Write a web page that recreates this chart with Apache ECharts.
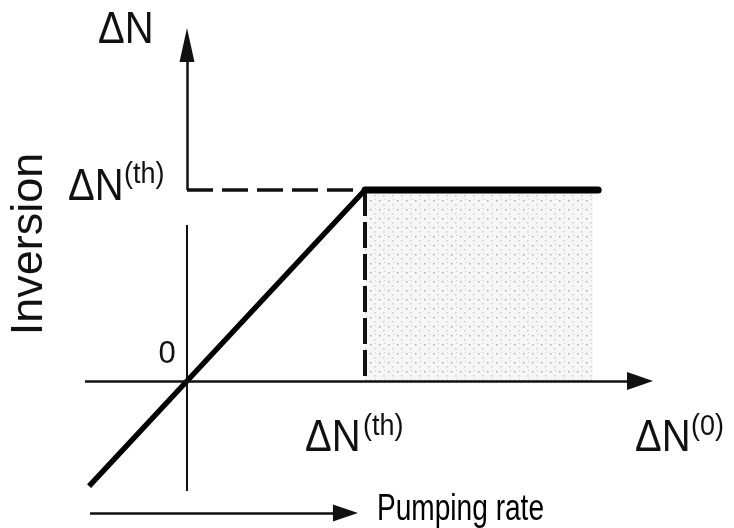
<!DOCTYPE html>
<html>
<head>
<meta charset="utf-8">
<script src="https://cdn.jsdelivr.net/npm/echarts@6/dist/echarts.min.js"></script>
<style>
  html, body { margin: 0; padding: 0; background: #fff; }
  #chart { width: 734px; height: 528px; }
</style>
</head>
<body>
<div id="chart"></div>
<script>
// pumping rate (x) and inversion (y), in units of the threshold
const pump = [-0.55, 0, 1, 2.31];
const inversion = [-0.55, 0, 1, 1];
const threshold = [1, 1];
const shadeX = [1, 2.28];
const shadeY = [0, 1];
// axis strokes drawn as lines (arrow end is the head centre)
const xAxisLine = [-0.573, 2.545];
const yAxisLower = [-0.576, 0.817];
const yAxisUpper = [1, 1.759];
const pumpArrowX = [-0.545, 0.89];
const pumpArrowY = -0.691;
// label texts
const labelBase = ['ΔN', 'ΔN', 'ΔN', 'ΔN'];
const labelSup = ['', '(th)', '(th)', '(0)'];
const yTitle = 'Inversion';
const xTitle = 'Pumping rate';
const zeroLabel = '0';

const FONT = "'Liberation Sans', Arial, sans-serif";

// dotted texture for the shaded region
function dotPattern() {
    let c = document.createElement('canvas');
    c.width = 9; c.height = 9;
    let g = c.getContext('2d');
    g.fillStyle = 'rgba(0,0,0,0.035)';
    g.fillRect(0, 0, 9, 9);
    g.fillStyle = 'rgba(0,0,0,0.30)';
    g.fillRect(1, 2, 1.5, 1.5);
    g.fillStyle = 'rgba(0,0,0,0.18)';
    g.fillRect(5, 6, 1.5, 1.5);
    g.fillRect(6, 1, 1, 1);
    return c;
}

let chart = echarts.init(document.getElementById('chart'));

let diag = pump.slice(0, 3).map((x, i) => [x, inversion[i]]);
let plateau = pump.slice(2).map((x, i) => [x, inversion[i + 2]]);

// label positions in pixels: [x, cap centre y, sup x, sup centre y]
let labelPos = [
    [98, 31, 0, 0],
    [68, 188, 124, 175],
    [305, 439, 363, 427],
    [635, 439, 691, 427]
];
let graphics = [];
labelBase.forEach((t, i) => {
    let p = labelPos[i];
    graphics.push({
        type: 'text', x: p[0], y: p[1], scaleY: 1.1, silent: true,
        style: { text: t, fontSize: 40, fontFamily: FONT, fill: '#111', align: 'left', verticalAlign: 'middle' }
    });
    if (labelSup[i]) {
        graphics.push({
            type: 'text', x: p[2], y: p[3], scaleY: 1.1, silent: true,
            style: { text: labelSup[i], fontSize: 27, fontFamily: FONT, fill: '#111', align: 'left', verticalAlign: 'middle' }
        });
    }
});
graphics.push({
    type: 'text', x: 30, y: 244, rotation: Math.PI / 2, silent: true,
    style: { text: yTitle, fontSize: 45, fontFamily: FONT, fill: '#111', align: 'center', verticalAlign: 'middle' }
});
graphics.push({
    type: 'text', x: 167, y: 354, silent: true,
    style: { text: zeroLabel, fontSize: 31, fontFamily: FONT, fill: '#111', align: 'center', verticalAlign: 'middle' }
});
// condensed look: squeeze the regular face horizontally
graphics.push({
    type: 'text', x: 377, y: 510, scaleX: 0.78, silent: true,
    style: { text: xTitle, fontSize: 36, fontFamily: FONT, fill: '#000', align: 'left', verticalAlign: 'middle' }
});

let option = {
    animation: false,
    grid: { left: 9, right: 13, top: 22.875, bottom: 3.75 },
    xAxis: { type: 'value', min: -1, max: 3, show: false },
    yAxis: { type: 'value', min: -0.75, max: 1.875, show: false },
    graphic: graphics,
    series: [
        {
            // shaded region + axes with arrow heads
            type: 'line', data: [], silent: true,
            markArea: {
                silent: true,
                itemStyle: { color: { image: dotPattern(), repeat: 'repeat' } },
                data: [[{ coord: [shadeX[0], shadeY[0]] }, { coord: [shadeX[1], shadeY[1]] }]]
            },
            markLine: {
                silent: true,
                symbol: ['none', 'none'],
                label: { show: false },
                emphasis: { disabled: true },
                lineStyle: { color: '#111', type: 'solid', width: 2.5 },
                data: [
                    [{ coord: [xAxisLine[0], 0] }, { coord: [xAxisLine[1], 0], symbol: 'triangle', symbolSize: [18, 26] }],
                    [{ coord: [0, yAxisLower[0]], lineStyle: { width: 2 } }, { coord: [0, yAxisLower[1]] }],
                    [{ coord: [0, yAxisUpper[0]] }, { coord: [0, yAxisUpper[1]], symbol: 'triangle', symbolSize: [15, 34] }],
                    [{ coord: [pumpArrowX[0], pumpArrowY] }, { coord: [pumpArrowX[1], pumpArrowY], symbol: 'triangle', symbolSize: [17, 25] }]
                ]
            }
        },
        {
            type: 'line', data: [[0, threshold[1]], [threshold[0], threshold[1]]],
            symbol: 'none', silent: true,
            lineStyle: { color: '#111', width: 3.5, type: [26, 9] }
        },
        {
            type: 'line', data: [[threshold[0], threshold[1]], [threshold[0], 0]],
            symbol: 'none', silent: true,
            lineStyle: { color: '#111', width: 4, type: [26, 6] }
        },
        {
            type: 'line', data: diag, symbol: 'none', silent: true,
            lineStyle: { color: '#000', width: 5.5, cap: 'butt' }
        },
        {
            type: 'line', data: plateau, symbol: 'none', silent: true,
            lineStyle: { color: '#000', width: 7, cap: 'round' }
        }
    ]
};
chart.setOption(option);
</script>
</body>
</html>
